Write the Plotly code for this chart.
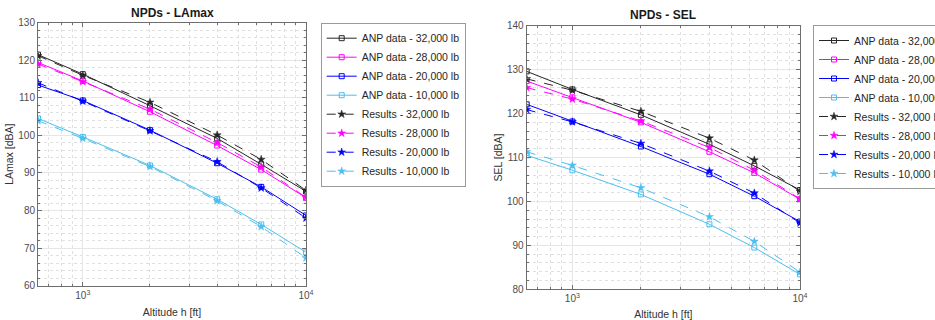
import math
import plotly.graph_objects as go

# ---------------- data ----------------
altitudes = [630, 1000, 2000, 4000, 6300, 10000]
weights = ["32,000 lb", "28,000 lb", "20,000 lb", "10,000 lb"]

lamax_anp = [
    [121.5, 116.3, 107.9, 99.2, 92.3, 85.1],
    [119.4, 114.5, 106.3, 97.3, 90.9, 83.4],
    [113.4, 109.3, 101.4, 92.6, 86.3, 78.7],
    [104.5, 99.6, 92.0, 83.0, 76.3, 68.9],
]
lamax_res = [
    [121.2, 116.0, 108.8, 100.1, 93.6, 85.4],
    [119.0, 114.3, 107.0, 98.1, 91.6, 83.5],
    [114.0, 109.1, 101.2, 93.0, 86.0, 78.0],
    [103.9, 99.2, 91.7, 82.6, 75.7, 67.4],
]
sel_anp = [
    [129.6, 125.5, 119.7, 113.0, 108.1, 102.6],
    [127.4, 123.7, 118.0, 111.3, 106.5, 100.5],
    [122.1, 118.2, 112.5, 106.2, 101.2, 95.4],
    [110.5, 107.1, 101.6, 94.8, 89.5, 83.4],
]
sel_res = [
    [127.9, 125.3, 120.5, 114.4, 109.4, 102.3],
    [125.9, 123.3, 118.3, 112.3, 107.1, 100.6],
    [120.9, 118.1, 113.2, 106.9, 101.9, 95.1],
    [111.3, 108.2, 103.1, 96.5, 90.9, 83.9],
]

x_tickvals = [1000, 10000]
x_ticktext = ["10<sup>3</sup>", "10<sup>4</sup>"]
x_minor = [700, 800, 900, 2000, 3000, 4000, 5000, 6000, 7000, 8000, 9000]

colors = ["#262626", "#FF00FF", "#0000FF", "#4DBEEE"]

FONT = "Liberation Sans, Arial, Helvetica, sans-serif"

fig = go.Figure()


def add_panel(anp, res, xa, ya, legend):
    for i, w in enumerate(weights):
        fig.add_trace(go.Scatter(
            x=altitudes, y=anp[i], mode="lines+markers",
            name=f"ANP data - {w}", xaxis=xa, yaxis=ya, legend=legend,
            line=dict(color=colors[i], width=1),
            marker=dict(symbol="square-open", size=5, color=colors[i],
                        line=dict(width=1, color=colors[i])),
        ))
    for i, w in enumerate(weights):
        fig.add_trace(go.Scatter(
            x=altitudes, y=res[i], mode="lines+markers",
            name=f"Results - {w}", xaxis=xa, yaxis=ya, legend=legend,
            line=dict(color=colors[i], width=1, dash="dash"),
            marker=dict(symbol="star", size=6, color=colors[i],
                        line=dict(width=0.5, color=colors[i])),
        ))


add_panel(lamax_anp, lamax_res, "x", "y", "legend")
add_panel(sel_anp, sel_res, "x2", "y2", "legend2")

W, H = 935, 320


def xp(px):
    return px / W


def yp(py):
    return 1 - py / H


AXCOL = "#6e6e6e"
TICKCOL = "#4d4d4d"
GRID = "#e6e6e6"
MINGRID = "#e0e0e0"


def xaxis(l, r, anchor):
    return dict(
        type="log", domain=[xp(l), xp(r)], anchor=anchor,
        range=[math.log10(altitudes[0]), math.log10(altitudes[-1])],
        tickmode="array", tickvals=x_tickvals, ticktext=x_ticktext,
        ticks="inside", ticklen=4, tickcolor=AXCOL,
        showline=True, linecolor=AXCOL, linewidth=1, mirror="ticks",
        showgrid=True, gridcolor=GRID, gridwidth=1, zeroline=False,
        tickfont=dict(family=FONT, size=10, color=TICKCOL),
        title=dict(text="Altitude h [ft]", standoff=8,
                   font=dict(family=FONT, size=10.5, color="#333333")),
        minor=dict(tickmode="array", tickvals=x_minor, ticks="inside",
                   ticklen=2, tickcolor=AXCOL, showgrid=True,
                   gridcolor=MINGRID, griddash="dot", gridwidth=1),
    )


def yaxis(top, bottom, anchor, rng, title):
    return dict(
        domain=[yp(bottom), yp(top)], anchor=anchor, range=rng,
        tickmode="linear", tick0=rng[0], dtick=10,
        ticks="inside", ticklen=4, tickcolor=AXCOL,
        showline=True, linecolor=AXCOL, linewidth=1, mirror="ticks",
        showgrid=True, gridcolor=GRID, gridwidth=1, zeroline=False,
        tickfont=dict(family=FONT, size=10, color=TICKCOL),
        title=dict(text=title, standoff=2,
                   font=dict(family=FONT, size=10.5, color="#333333")),
        minor=dict(dtick=2, ticks="inside", ticklen=2, tickcolor=AXCOL,
                   showgrid=True, gridcolor=MINGRID, griddash="dot",
                   gridwidth=1),
    )


legend_common = dict(
    xanchor="left", yanchor="top",
    bgcolor="white", bordercolor="#9a9a9a", borderwidth=1,
    font=dict(family=FONT, size=10.5, color="#262626"),
    tracegroupgap=0, itemwidth=30,
)

fig.update_layout(
    width=W, height=H,
    margin=dict(l=0, r=0, t=0, b=0, autoexpand=False),
    paper_bgcolor="white", plot_bgcolor="white",
    font=dict(family=FONT),
    xaxis=xaxis(38, 306, "y"),
    yaxis=yaxis(22.7, 285.7, "x", [60, 130], "LAmax [dBA]"),
    xaxis2=xaxis(526.7, 800, "y2"),
    yaxis2=yaxis(25.7, 289.3, "x2", [80, 140], "SEL [dBA]"),
    legend=dict(x=xp(320.7), y=yp(22.7), **legend_common),
    legend2=dict(x=xp(813), y=yp(25), **legend_common),
    annotations=[
        dict(text="<b>NPDs - LAmax</b>", xref="paper", yref="paper",
             x=xp(172), y=yp(13), showarrow=False, xanchor="center",
             yanchor="middle", font=dict(family=FONT, size=12, color="#1a1a1a")),
        dict(text="<b>NPDs - SEL</b>", xref="paper", yref="paper",
             x=xp(663), y=yp(15), showarrow=False, xanchor="center",
             yanchor="middle", font=dict(family=FONT, size=12, color="#1a1a1a")),
    ],
    showlegend=True,
)

# remove the default page margin so the 935x320 figure fills the window exactly
page_css = (
    "document.documentElement.style.margin='0';"
    "document.documentElement.style.overflow='hidden';"
    "document.body.style.margin='0';"
    "document.body.style.overflow='hidden';"
)
fig.write_html("out.html", post_script=page_css,
               config={"displayModeBar": False})
